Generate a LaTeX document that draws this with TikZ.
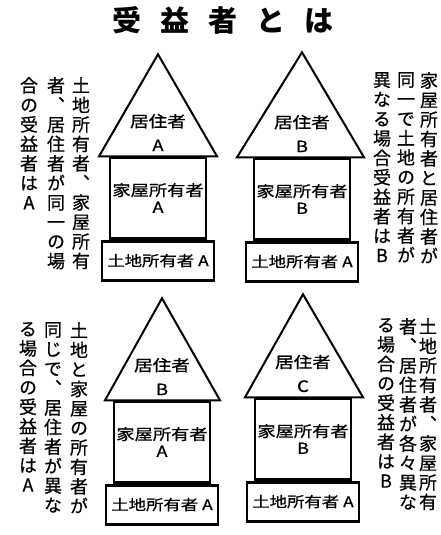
\documentclass[tikz,border=0pt]{standalone}
\usepackage{fontspec}
\setmainfont{Noto Sans CJK JP}
\newfontfamily\tatefont[RawFeature=+vert, FakeBold=0.6]{Noto Sans CJK JP}
\newfontfamily\gothfont[FakeStretch=1.2, FakeBold=0.8]{Noto Sans CJK JP}
\usetikzlibrary{positioning}

\begin{document}
\begin{tikzpicture}[x=1pt,y=-1pt,
    body/.style={draw, line width=2.4pt, minimum width=96pt, minimum height=81pt, inner sep=0pt},
    land/.style={draw, line width=2.8pt, minimum width=112pt, minimum height=39pt, inner sep=0pt,
                 font=\gothfont\fontsize{14.5}{17}\selectfont},
    roofline/.style={line width=2pt, line join=miter},
    lbl/.style={align=center, inner sep=0pt, font=\gothfont\fontsize{15.5}{24}\selectfont},
    own/.style={align=center, inner sep=0pt, font=\gothfont\fontsize{15.2}{17}\selectfont},
    tate/.style={align=center, inner sep=0pt, anchor=north, font=\tatefont\fontsize{18}{19.5}\selectfont},
    title/.style={inner sep=0pt, font=\fontsize{29}{31}\selectfont\bfseries}]
  \useasboundingbox (0,0) rectangle (441,535);

  \node[title] (head) at (223,20) {受\hspace{19pt}益\hspace{19pt}者\hspace{19pt}と\hspace{19pt}は};

  % top left: all A
  \node[body] (b1) at (158,198) {};
  \node[land] (l1) [below=0pt of b1] {土地所有者 A};
  \draw[roofline] ([xshift=-59pt]b1.north) -- ([yshift=102pt]b1.north) -- ([xshift=59pt]b1.north) -- cycle;
  \node[lbl] (r1) [above=5pt of b1.north] {居住者\\A};
  \node[own] (o1) at (b1.center) {家屋所有者\\A};
  \node[tate] (t1a) at (81,77) {土\\地\\所\\有\\者\\、\\家\\屋\\所\\有};
  \node[tate] (t1b) at (56,77) {者\\、\\居\\住\\者\\が\\同\\一\\の\\場};
  \node[tate] (t1c) at (29,77) {合\\の\\受\\益\\者\\は\\A};

  % top right
  \node[body] (b2) at (302,199) {};
  \node[land] (l2) [below=0pt of b2] {土地所有者 A};
  \draw[roofline] ([xshift=-65pt]b2.north) -- ([yshift=105pt]b2.north) -- ([xshift=62pt]b2.north) -- cycle;
  \node[lbl] (r2) [above=5pt of b2.north] {居住者\\B};
  \node[own] (o2) at (b2.center) {家屋所有者\\B};
  \node[tate] (t2a) at (429,72) {家\\屋\\所\\有\\者\\と\\居\\住\\者\\が};
  \node[tate] (t2b) at (406,72) {同\\一\\で\\土\\地\\の\\所\\有\\者\\が};
  \node[tate] (t2c) at (382,72) {異\\な\\る\\場\\合\\受\\益\\者\\は\\B};

  % bottom left
  \node[body] (b3) at (162,442) {};
  \node[land] (l3) [below=0pt of b3] {土地所有者 A};
  \draw[roofline] ([xshift=-57pt]b3.north) -- ([yshift=102pt]b3.north) -- ([xshift=58pt]b3.north) -- cycle;
  \node[lbl] (r3) [above=5pt of b3.north] {居住者\\B};
  \node[own] (o3) at (b3.center) {家屋所有者\\A};
  \node[tate] (t3a) at (79,322) {土\\地\\と\\家\\屋\\の\\所\\有\\者\\が};
  \node[tate] (t3b) at (53,322) {同\\じ\\で\\、\\居\\住\\者\\が\\異\\な};
  \node[tate] (t3c) at (28,322) {る\\場\\合\\の\\受\\益\\者\\は\\A};

  % bottom right
  \node[body] (b4) at (303,439) {};
  \node[land] (l4) [below=0pt of b4] {土地所有者 A};
  \draw[roofline] ([xshift=-58pt]b4.north) -- ([yshift=103pt]b4.north) -- ([xshift=60pt]b4.north) -- cycle;
  \node[lbl] (r4) [above=5pt of b4.north] {居住者\\C};
  \node[own] (o4) at (b4.center) {家屋所有者\\B};
  \node[tate] (t4a) at (428,318) {土\\地\\所\\有\\者\\、\\家\\屋\\所\\有};
  \node[tate] (t4b) at (408,318) {者\\、\\居\\住\\者\\が\\各\\々\\異\\な};
  \node[tate] (t4c) at (386,318) {る\\場\\合\\の\\受\\益\\者\\は\\B};
\end{tikzpicture}
\end{document}
